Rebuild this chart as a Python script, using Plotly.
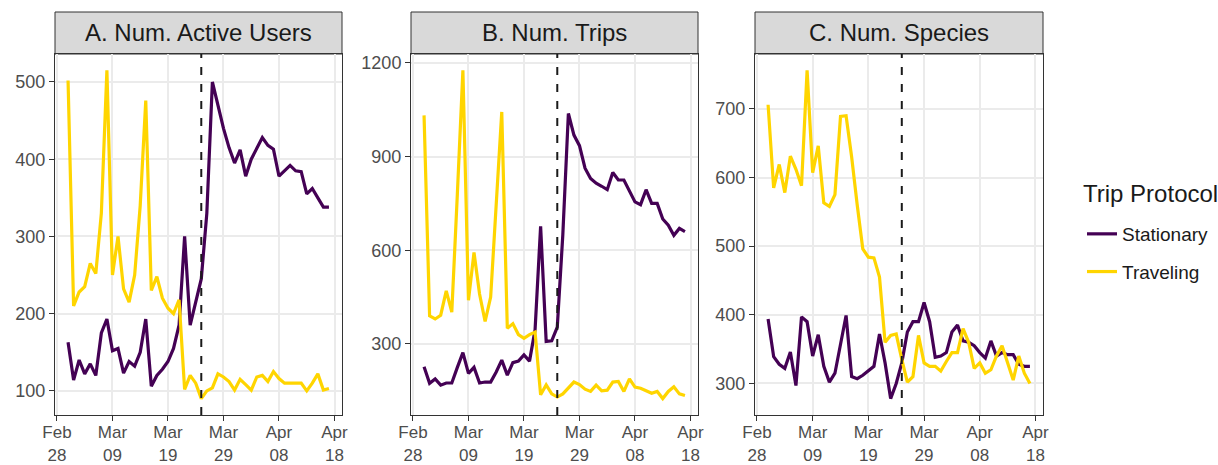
import pandas as pd
import plotly.graph_objects as go

# ---------------- data ----------------
dates = pd.date_range("2020-03-01", "2020-04-17", freq="D")

users_stationary = [163, 114, 140, 122, 135, 120, 175, 193, 152, 155, 123, 138, 132, 150, 193, 106,
                    120, 128, 138, 155, 185, 300, 185, 215, 245, 330, 500, 470, 440, 415, 395, 412,
                    378, 400, 415, 428, 418, 413, 378, 385, 392, 385, 384, 355, 362, 350, 338, 338]
users_traveling = [502, 210, 228, 235, 265, 252, 330, 515, 250, 300, 232, 215, 250, 340, 476, 230,
                   248, 220, 207, 200, 218, 102, 120, 110, 90, 100, 104, 122, 118, 112, 101, 115,
                   108, 101, 118, 120, 112, 125, 116, 110, 110, 110, 110, 100, 110, 122, 101, 103]

trips_stationary = [227, 174, 188, 168, 175, 175, 225, 272, 206, 225, 175, 178, 178, 210, 248, 200,
                    240, 245, 265, 245, 345, 677, 308, 310, 354, 650, 1038, 969, 935, 863, 830, 815,
                    805, 794, 849, 825, 825, 790, 755, 746, 794, 750, 750, 700, 680, 648, 670, 660]
trips_traveling = [1032, 390, 380, 392, 470, 402, 780, 1176, 440, 593, 460, 372, 450, 750, 1043, 350,
                   365, 330, 318, 330, 338, 137, 169, 140, 130, 140, 160, 178, 170, 155, 148, 168,
                   150, 152, 178, 180, 148, 188, 162, 158, 150, 142, 148, 125, 148, 163, 140, 135]

species_stationary = [394, 339, 328, 322, 346, 297, 397, 390, 340, 371, 325, 302, 315, 360, 399, 310,
                      307, 312, 318, 325, 372, 330, 278, 300, 330, 375, 390, 390, 418, 390, 338, 340,
                      345, 375, 385, 362, 360, 355, 345, 337, 362, 340, 345, 342, 342, 328, 325, 325]
species_traveling = [706, 585, 619, 578, 631, 612, 588, 756, 607, 646, 563, 558, 575, 689, 690, 630,
                     560, 496, 484, 483, 455, 360, 370, 372, 335, 302, 310, 370, 330, 325, 325, 318,
                     332, 345, 345, 380, 360, 322, 330, 315, 320, 340, 355, 330, 305, 340, 315, 300]

panel_titles = ["A. Num. Active Users", "B. Num. Trips", "C. Num. Species"]
series_names = ["Stationary", "Traveling"]
legend_title = "Trip Protocol"
tick_dates = ["2020-02-28", "2020-03-09", "2020-03-19", "2020-03-29", "2020-04-08", "2020-04-18"]
tick_labels = ["Feb<br>28", "Mar<br>09", "Mar<br>19", "Mar<br>29", "Apr<br>08", "Apr<br>18"]
y_ticks = [[100, 200, 300, 400, 500], [300, 600, 900, 1200], [300, 400, 500, 600, 700]]
event_date = "2020-03-25"

panels = [(users_stationary, users_traveling),
          (trips_stationary, trips_traveling),
          (species_stationary, species_traveling)]

# ---------------- style ----------------
W, H = 1218, 465
colors = {"Stationary": "#440154", "Traveling": "#FFD500"}
FONT = "Liberation Sans, Arial, sans-serif"
panel_px = [(55, 342), (411, 698), (755, 1043)]
top_px, bottom_px = 54, 415
strip_top_px = 12

ydom = [(H - bottom_px) / H, (H - top_px) / H]

fig = go.Figure()

span = dates[-1] - dates[0]
xrange = [dates[0] - span * 0.05, dates[-1] + span * 0.05]

for k, (stat, trav) in enumerate(panels):
    suffix = "" if k == 0 else str(k + 1)
    for name, vals in zip(series_names, (stat, trav)):
        fig.add_trace(go.Scatter(
            x=dates, y=vals, mode="lines", name=name,
            line=dict(color=colors[name], width=3.2),
            legendgroup=name, showlegend=(k == 0),
            xaxis="x" + suffix, yaxis="y" + suffix,
        ))
    allv = list(stat) + list(trav)
    lo, hi = min(allv), max(allv)
    pad = (hi - lo) * 0.05
    x0, x1 = panel_px[k]
    common = dict(showline=True, linecolor="#333333", linewidth=1, mirror=True,
                  showgrid=True, gridcolor="#EBEBEB", gridwidth=1.5, zeroline=False,
                  ticks="outside", ticklen=5, tickcolor="#333333", tickwidth=1,
                  automargin=False)
    fig.update_layout(**{
        "xaxis" + suffix: dict(domain=[x0 / W, x1 / W], anchor="y" + suffix, range=xrange,
                               type="date", tickvals=pd.to_datetime(tick_dates), ticktext=tick_labels,
                               tickfont=dict(family=FONT, size=17, color="#4D4D4D"),
                               ticklabelstandoff=-3,
                               **common),
        "yaxis" + suffix: dict(domain=ydom, anchor="x" + suffix, range=[lo - pad, hi + pad],
                               tickvals=y_ticks[k],
                               tickfont=dict(family=FONT, size=18, color="#4D4D4D"),
                               **common),
    })
    # event line
    fig.add_shape(type="line", xref="x" + suffix, yref="y" + suffix + " domain",
                  x0=event_date, x1=event_date, y0=0, y1=1,
                  line=dict(color="#1A1A1A", width=2, dash="8px,9px"))
    # strip
    fig.add_shape(type="rect", xref="paper", yref="paper",
                  x0=x0 / W, x1=x1 / W, y0=(H - top_px) / H, y1=(H - strip_top_px) / H,
                  fillcolor="#D9D9D9", line=dict(color="#333333", width=1), layer="below")
    fig.add_annotation(text=panel_titles[k], xref="paper", yref="paper",
                       x=(x0 + x1) / 2 / W, y=(H - (top_px + strip_top_px) / 2) / H,
                       showarrow=False, xanchor="center", yanchor="middle",
                       font=dict(family=FONT, size=24, color="#1A1A1A"))

# legend title
fig.add_annotation(text=legend_title, xref="paper", yref="paper",
                   x=1081 / W, y=(H - 193) / H, xanchor="left", yanchor="middle",
                   showarrow=False, font=dict(family=FONT, size=24, color="#1A1A1A"))

fig.update_layout(
    width=W, height=H,
    margin=dict(l=0, r=0, t=0, b=0, autoexpand=False),
    paper_bgcolor="white", plot_bgcolor="white",
    font=dict(family=FONT, color="#1A1A1A"),
    showlegend=True,
    legend=dict(
        font=dict(family=FONT, size=19, color="#1A1A1A"),
        x=1082 / W, y=(H - 215) / H, xanchor="left", yanchor="top",
        itemwidth=30, tracegroupgap=10, bgcolor="rgba(0,0,0,0)",
    ),
)

fig.write_html("out.html", config={"displayModeBar": False},
               post_script="document.body.style.margin='0';document.body.style.overflow='hidden';")
